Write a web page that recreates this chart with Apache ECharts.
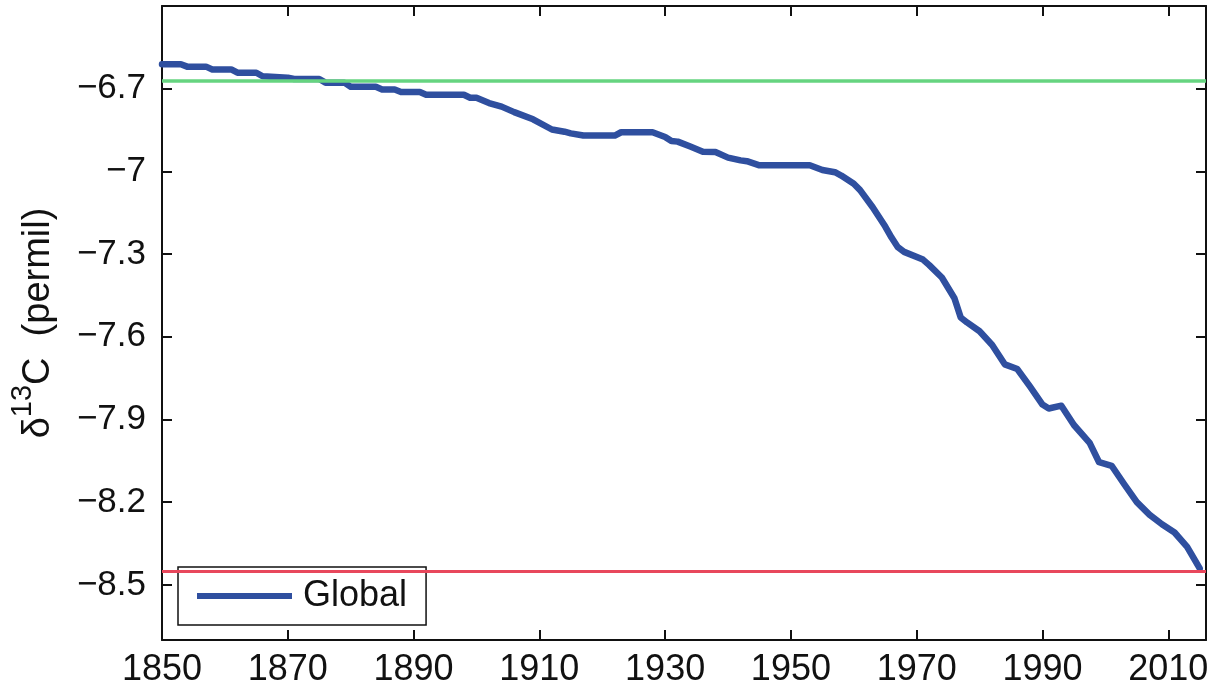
<!DOCTYPE html>
<html>
<head>
<meta charset="utf-8">
<script src="https://cdn.jsdelivr.net/npm/echarts@6/dist/echarts.min.js"></script>
<style>
html,body{margin:0;padding:0;background:#fff;}
#chart{width:1212px;height:694px;}
</style>
</head>
<body>
<div id="chart"></div>
<script>
// Data
const years = [1850,1853,1854,1857,1858,1861,1862,1865,1866,1870,1871,1875,1876,1879,1880,1884,1885,1887,1888,1891,1892,1898,1899,1900,1902,1904,1906,1909,1912,1914,1915,1917,1922,1923,1928,1930,1931,1932,1934,1936,1938,1940,1942,1943,1945,1953,1955,1957,1958,1960,1961,1963,1965,1966,1967,1968,1971,1972,1974,1976,1977,1978,1980,1982,1984,1986,1988,1990,1991,1993,1995,1997.5,1999,2001,2003,2005,2007,2009,2011,2013,2015];
const globalD13C = [-6.611,-6.611,-6.620,-6.620,-6.630,-6.630,-6.642,-6.642,-6.655,-6.660,-6.665,-6.665,-6.678,-6.678,-6.693,-6.693,-6.703,-6.703,-6.712,-6.712,-6.722,-6.722,-6.733,-6.733,-6.752,-6.765,-6.785,-6.811,-6.848,-6.856,-6.862,-6.870,-6.870,-6.858,-6.858,-6.875,-6.890,-6.892,-6.910,-6.929,-6.930,-6.950,-6.960,-6.963,-6.978,-6.978,-6.995,-7.003,-7.015,-7.045,-7.068,-7.130,-7.200,-7.240,-7.275,-7.292,-7.320,-7.340,-7.385,-7.460,-7.530,-7.548,-7.580,-7.630,-7.700,-7.717,-7.780,-7.846,-7.860,-7.850,-7.920,-7.985,-8.055,-8.068,-8.135,-8.200,-8.245,-8.280,-8.310,-8.362,-8.440];
const refGreen = -6.675;
const refRed = -8.45;
const xTicks = [1850,1870,1890,1910,1930,1950,1970,1990,2010];
const yTicks = [-8.5,-8.2,-7.9,-7.6,-7.3,-7.0,-6.7];
const seriesName = 'Global';

const FONT = 'Liberation Sans';
const chart = echarts.init(document.getElementById('chart'));
const axisLine = {show:true, lineStyle:{color:'#111', width:2}};
const tick = (vals)=>({show:true, inside:true, length:10, lineStyle:{color:'#111', width:2}, customValues: vals});

const option = {
  animation:false,
  backgroundColor:'#fff',
  grid:{left:162, right:6, top:6, bottom:54, containLabel:false},
  legend:{
    data:[seriesName], left:178, top:567,
    backgroundColor:'#fff', borderColor:'#111', borderWidth:1.5, borderRadius:0,
    padding:[11,19,11,19], icon:'rect', itemWidth:95, itemHeight:6,
    textStyle:{fontFamily:FONT, fontSize:36, color:'#111', lineHeight:36, padding:[0,0,0,6]}
  },
  xAxis:[
    {type:'value', min:1850, max:2016, position:'bottom',
     axisLine:axisLine, axisTick:tick(xTicks), splitLine:{show:false},
     axisLabel:{customValues:xTicks, fontFamily:FONT, fontSize:36, color:'#111', margin:12,
       formatter:(v)=>String(v)}},
    {type:'value', min:1850, max:2016, position:'top',
     axisLine:axisLine, axisTick:tick(xTicks), splitLine:{show:false}, axisLabel:{show:false}}
  ],
  yAxis:[
    {type:'value', min:-8.7, max:-6.4, position:'left',
     axisLine:axisLine, axisTick:tick(yTicks), splitLine:{show:false},
     axisLabel:{customValues:yTicks, fontFamily:FONT, fontSize:35, color:'#111', margin:16,
       formatter:(v)=>String(v).replace('-', '\u2212')},
     name:'{m|\u03b4}{s|13}{m|C  (permil)}', nameLocation:'middle', nameGap:104, nameRotate:90,
     nameTextStyle:{rich:{
       m:{fontFamily:FONT, fontSize:38, color:'#111', lineHeight:50, verticalAlign:'bottom'},
       s:{fontFamily:FONT, fontSize:29, color:'#111', lineHeight:30, verticalAlign:'top'}
     }}},
    {type:'value', min:-8.7, max:-6.4, position:'right',
     axisLine:axisLine, axisTick:tick(yTicks), splitLine:{show:false}, axisLabel:{show:false}}
  ],
  series:[
    {name:seriesName, type:'line', xAxisIndex:0, yAxisIndex:0,
     data: years.map((y,i)=>[y, globalD13C[i]]),
     showSymbol:false, symbol:'none', smooth:false,
     lineStyle:{color:'#2f4f9f', width:6.5, join:'round', cap:'round'},
     itemStyle:{color:'#2f4f9f'},
     markLine:{silent:true, symbol:'none', label:{show:false},
       data:[
         {yAxis:refGreen, lineStyle:{color:'#66d480', width:3.5, type:'solid'}},
         {yAxis:refRed, lineStyle:{color:'#e8475c', width:3, type:'solid'}}
       ]}
    }
  ]
};
chart.setOption(option);
</script>
</body>
</html>
